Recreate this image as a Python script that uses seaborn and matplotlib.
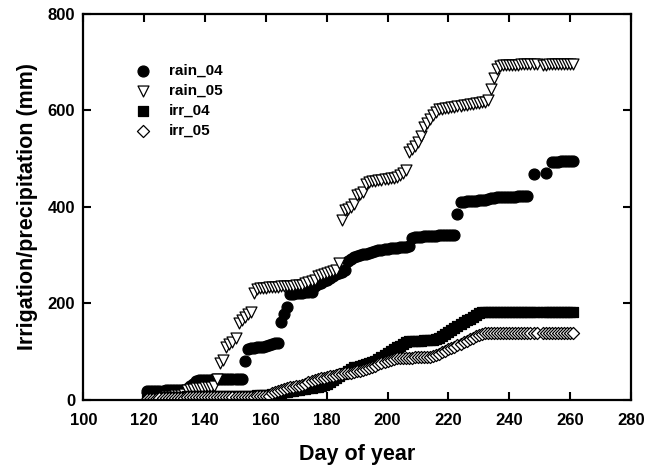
"""Cumulative irrigation and precipitation, 2004 vs 2005 seasons."""

import matplotlib
matplotlib.use("Agg")
import matplotlib.pyplot as plt
import numpy as np
import pandas as pd
import seaborn as sns

sns.set_theme(style="ticks", rc={
    "axes.edgecolor": "black", "text.color": "black", "axes.labelcolor": "black",
    "xtick.color": "black", "ytick.color": "black",
})
plt.rcParams["font.family"] = ["Liberation Sans", "DejaVu Sans"]
plt.rcParams["font.weight"] = "bold"

nan = np.nan

# Day of year (no record on day 250)
days = list(range(121, 250)) + list(range(251, 262))

# Cumulative rainfall 2004 (mm)
rain_04 = [
    18, 18, 18, 18, 18, 18, 19, 19, 19, 19, 20, 20, 20, 22,           # 121-134
    28, 32, 38,                                                       # 135-137
    40, 40, 41, 41, 41, 42, 42, 42, 42, 42, 42, 43, 43, 43, 43,       # 138-152
    80,                                                               # 153
    105, 106, 107, 108, 108, 110, 112, 114, 116, 118, 118,            # 154-164
    160, 178, 192,                                                    # 165-167
    218, 220, 221, 222, 222, 223, 223, 224,                           # 168-175
    236, 240, 242, 245, 248, 252, 256, 260, 262, 265, 268,            # 176-186
    288, 292, 295, 298, 300, 302, 303, 305, 307, 309, 310,            # 187-197
    311, 312, 313, 314, 314, 315, 316, 316, 317, 318,                 # 198-207
    336, 337, 338, 338, 339, 339, 340, 340, 340, 341, 341, 341,       # 208-219
    342, 342, 342,                                                    # 220-222
    386,                                                              # 223
    410, 411, 412, 412, 413, 413, 414, 414, 415, 416,                 # 224-233
    419, 419, 420, 420, 420, 421, 421, 421, 421, 422, 422, 422, 422,  # 234-246
    nan, 469, nan,                                                    # 247-249
    nan, 470, nan,                                                    # 251-253
    493, 494, 494, 495, 495, 495, 496, 496,                           # 254-261
]

# Cumulative rainfall 2005 (mm)
rain_05 = [
    4, 4, 5, 5, 6, 6, 7, 8, 8, 9, 10, 10, 12,                         # 121-133
    20, 21, 22, 23, 24, 24, 25, 26, 26, 28,                           # 134-143
    42, 76, 82,                                                       # 144-146
    108, 115, 120, 128,                                               # 147-150
    158, 165, 172, 178, 181,                                          # 151-155
    222,                                                              # 156
    230, 231, 232, 232, 233, 233, 234, 234,                           # 157-164
    235, 235, 236, 236, 236, 237, 237, 238,                           # 165-172
    242, 244, 246, 248,                                               # 173-176
    256, 258, 260, 262, 264, 266, 268,                                # 177-183
    283, 372,                                                         # 184-185
    393, 396, 400, 405,                                               # 186-189
    424, 427, 430, 448,                                               # 190-193
    452, 453, 454, 455, 456, 457, 458, 459, 460, 462, 466, 470,       # 194-205
    476,                                                              # 206
    513, 521, 527, 535, 548,                                          # 207-211
    566, 574, 582, 590, 596, 602,                                     # 212-217
    604, 605, 606, 607, 608, 609, 610, 611, 612, 613, 614, 615,       # 218-229
    616, 617, 618, 621,                                               # 230-233
    645, 668, 686,                                                    # 234-236
    693, 694, 694, 695, 695, 695, 695, 696, 696, 696, 696, 696, 697,  # 237-249
    695, 695, 696, 696, 696, 696, 696, 697, 697, 697, 697,            # 251-261
]

# Cumulative irrigation 2004 (mm)
irr_04 = [
    4, 4, 5, 5, 5, 5, 5, 6, 6, 6,                                     # 121-130
    6, 6, 6, 7, 7, 7, 7, 7, 7, 7,                                     # 131-140
    7, 7, 7, 8, 8, 8, 8, 8, 8, 8,                                     # 141-150
    8, 8, 8, 8, 8, 8, 9, 9, 9, 9,                                     # 151-160
    10, 11, 12, 13, 14, 15, 16, 17, 18,                               # 161-169
    19, 20, 21, 22, 23, 24, 25, 26, 28,                               # 170-178
    30, 33, 36, 40, 44, 48, 52, 56, 60, 64,                           # 179-188
    67, 68, 70, 72, 73, 75, 77, 79,                                   # 189-196
    84, 88, 92, 96, 100, 104, 108, 112, 116, 120,                     # 197-206
    121, 121, 122, 122, 122, 123, 123, 124, 124, 125,                 # 207-216
    128, 132, 136, 140, 144, 148, 152, 156, 160, 164, 168, 172,       # 217-228
    176, 179,                                                         # 229-230
    181, 181, 181, 181, 181, 181, 181, 181, 181, 181,                 # 231-240
    181, 181, 181, 181, 181, 181, 181, 181, 181,                      # 241-249
    181, 181, 181, 181, 181, 181, 181, 181, 181, 181, 181,            # 251-261
]

# Cumulative irrigation 2005 (mm)
irr_05 = [
    2, 2, 2, 2, 3, 3, 3, 3, 3, 3, 3, 3, 4,                            # 121-133
    5, 5, 5, 5, 5, 5, 5, 5, 5, 6, 6, 6, 6, 6,                         # 134-147
    6, 6, 6, 6, 6, 6, 6, 6, 6, 7, 7, 7, 7, 8,                         # 148-161
    13, 15, 17, 19, 21, 23, 25, 26,                                   # 162-169
    27, 29, 31, 33, 36, 38, 40, 42,                                   # 170-177
    44, 45, 46, 48, 49, 50, 52, 53,                                   # 178-185
    54, 55, 56, 57, 59, 60, 62, 63,                                   # 186-193
    65, 67, 70, 73, 76, 78, 80, 82, 84, 86,                           # 194-203
    86, 86, 87, 87, 87, 88, 88, 88, 89, 89, 89, 90,                   # 204-215
    92, 95, 98, 101, 104, 107, 110, 113,                              # 216-223
    116, 119, 122, 125, 128, 131, 134, 137,                           # 224-231
    139, 139, 139, 139, 139, 139, 139, 139, 139,                      # 232-240
    139, 139, 139, 139, 139, 139, 139, 139, 139,                      # 241-249
    139, 139, 139, 139, 139, 139, 139, 139, 139, 139, 139,            # 251-261
]

series_names = ["rain_04", "rain_05", "irr_04", "irr_05"]
series_values = [rain_04, rain_05, irr_04, irr_05]

df = pd.DataFrame({"day": days})
for name, vals in zip(series_names, series_values):
    df[name] = vals

# marker, face colour, size
styles = {
    "rain_04": ("o", "black", 62),
    "rain_05": ("v", "white", 62),
    "irr_04": ("s", "black", 48),
    "irr_05": ("D", "white", 38),
}

fig, ax = plt.subplots(figsize=(6.47, 4.70), dpi=100)
fig.subplots_adjust(left=0.129, right=0.975, bottom=0.150, top=0.970)

for name in series_names:
    marker, face, size = styles[name]
    sns.scatterplot(
        data=df, x="day", y=name, ax=ax, label=name,
        marker=marker, color=face, edgecolor="black", linewidth=0.9, s=size,
    )

ax.set_xlim(100, 280)
ax.set_ylim(0, 800)
ax.set_xticks(range(100, 281, 20))
ax.set_yticks(range(0, 801, 200))
ax.tick_params(direction="in", top=True, right=True, length=6, width=1.5,
               labelsize=12)
ax.tick_params(axis="x", pad=10)
ax.tick_params(axis="y", pad=6)
for lab in ax.get_xticklabels() + ax.get_yticklabels():
    lab.set_fontweight("bold")
for sp in ax.spines.values():
    sp.set_linewidth(1.6)

ax.set_xlabel("Day of year", fontsize=15.5, fontweight="bold", labelpad=11)
ax.set_ylabel("Irrigation/precipitation (mm)", fontsize=15.5, fontweight="bold",
              labelpad=7)

ax.legend(loc="upper left", bbox_to_anchor=(0.095, 0.871), frameon=False,
          borderpad=0, borderaxespad=0, handlelength=1.0, handletextpad=1.2,
          labelspacing=0.40, prop={"size": 11, "weight": "bold"})

fig.savefig("out.png", dpi=100)
